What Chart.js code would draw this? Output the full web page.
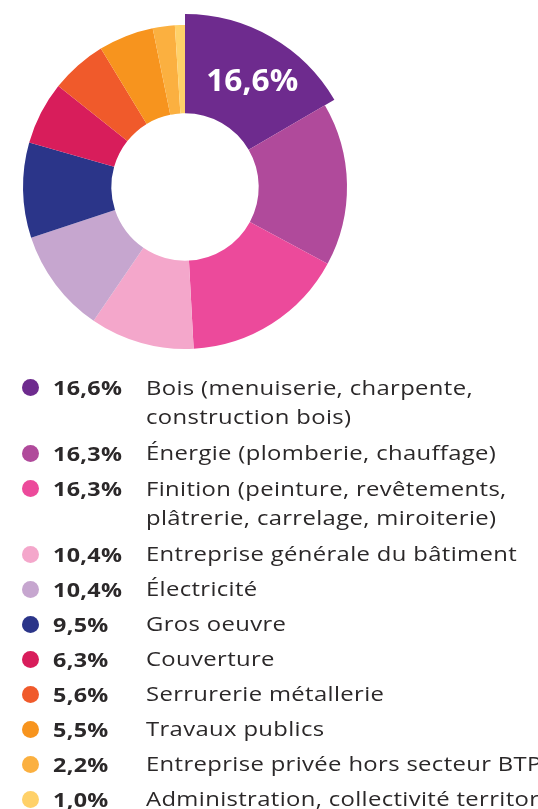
<!DOCTYPE html>
<html>
<head>
<meta charset="utf-8">
<script src="https://cdn.jsdelivr.net/npm/chart.js@4.4.1/dist/chart.umd.min.js"></script>
<style>
  html, body { margin: 0; padding: 0; background: #fff; width: 538px; height: 809px; overflow: hidden; }
  #wrap { position: relative; width: 538px; height: 809px; overflow: hidden; }
  #chartBox { position: absolute; left: 0; top: 0; width: 370px; height: 374px; }
  #legend { position: absolute; left: 0; top: 373px; width: 800px; font-family: "Open Sans", sans-serif; color: #2b2829; }
  .row { position: relative; margin-bottom: 7px; }
  .row.multi { margin-bottom: 8px; }
  .dot { position: absolute; left: 22px; top: 6px; width: 17px; height: 17px; border-radius: 50%; }
  .pct { position: absolute; left: 53px; top: 0; font-weight: 700; font-size: 20px; line-height: 29px; white-space: nowrap; transform-origin: 0 50%; letter-spacing: 0.3px; }
  .lab { margin-left: 146px; font-size: 20px; line-height: 28px; white-space: nowrap; transform-origin: 0 50%; letter-spacing: 0.3px; }
  .row.multi .lab { line-height: 29px; }
</style>
</head>
<body>
<div id="wrap">
  <div id="chartBox"><canvas id="c"></canvas></div>
  <div id="legend"></div>
</div>
<script>
const categories = [
  ['Bois (menuiserie, charpente,', 'construction bois)'],
  ['Énergie (plomberie, chauffage)'],
  ['Finition (peinture, revêtements,', 'plâtrerie, carrelage, miroiterie)'],
  ['Entreprise générale du bâtiment'],
  ['Électricité'],
  ['Gros oeuvre'],
  ['Couverture'],
  ['Serrurerie métallerie'],
  ['Travaux publics'],
  ['Entreprise privée hors secteur BTP'],
  ['Administration, collectivité territoriale']
];
const values = [16.6, 16.3, 16.3, 10.4, 10.4, 9.5, 6.3, 5.6, 5.5, 2.2, 1.0];
const valueLabels = ['16,6%', '16,3%', '16,3%', '10,4%', '10,4%', '9,5%', '6,3%', '5,6%', '5,5%', '2,2%', '1,0%'];
const colors = ['#6e2b8e', '#b04a9b', '#ec4a9b', '#f4a7cb', '#c6a6cf', '#2b3589', '#d81d5b', '#f05a2b', '#f7941e', '#fbb040', '#ffd169'];

const highlightIndex = 0;

// horizontal stretch to mimic the wide geometric typeface of the original
const mctx = document.createElement('canvas').getContext('2d');
mctx.font = '400 20px "Open Sans"';
const refStr = 'Entreprise générale du bâtiment';
const labScale = 371 / (mctx.measureText(refStr).width + 0.3 * refStr.length);
mctx.font = '700 20px "Open Sans"';
const pctScale = 69 / (mctx.measureText('16,6%').width + 0.3 * 4);

const bigSlice = {
  id: 'bigSlice',
  afterUpdate(chart) {
    const arc = chart.getDatasetMeta(0).data[highlightIndex];
    if (arc) arc.outerRadius = arc.outerRadius + 11;
  },
  afterDatasetsDraw(chart) {
    const arc = chart.getDatasetMeta(0).data[highlightIndex];
    if (!arc) return;
    const mid = (arc.startAngle + arc.endAngle) / 2 + 0.05;
    const r = (arc.innerRadius + arc.outerRadius) / 2 + 1;
    const x = arc.x + Math.cos(mid) * r;
    const y = arc.y + Math.sin(mid) * r;
    const ctx = chart.ctx;
    ctx.save();
    ctx.fillStyle = '#ffffff';
    ctx.font = '700 30px "Open Sans", sans-serif';
    ctx.textAlign = 'center';
    ctx.textBaseline = 'middle';
    const txt = valueLabels[highlightIndex];
    const w = ctx.measureText(txt).width;
    const sx = 92 / w;
    ctx.translate(x, y);
    ctx.scale(sx, 1);
    ctx.fillText(txt, 0, 0);
    ctx.restore();
  }
};

new Chart(document.getElementById('c'), {
  type: 'doughnut',
  data: {
    labels: categories,
    datasets: [{
      data: values,
      backgroundColor: colors,
      borderWidth: 0
    }]
  },
  options: {
    responsive: true,
    maintainAspectRatio: false,
    animation: false,
    cutout: '45.5%',
    layout: { padding: { left: 23, right: 23, top: 25, bottom: 25 } },
    plugins: { legend: { display: false }, tooltip: { enabled: false } }
  },
  plugins: [bigSlice]
});

const legend = document.getElementById('legend');
categories.forEach((lines, i) => {
  const row = document.createElement('div');
  row.className = 'row' + (lines.length > 1 ? ' multi' : '');
  const dot = document.createElement('span');
  dot.className = 'dot';
  dot.style.background = colors[i];
  const pct = document.createElement('span');
  pct.className = 'pct';
  pct.style.transform = 'scaleX(' + pctScale + ')';
  pct.textContent = valueLabels[i];
  const lab = document.createElement('div');
  lab.className = 'lab';
  lab.style.transform = 'scaleX(' + labScale + ')';
  lab.innerHTML = lines.join('<br>');
  row.appendChild(dot); row.appendChild(pct); row.appendChild(lab);
  legend.appendChild(row);
});
</script>
</body>
</html>
